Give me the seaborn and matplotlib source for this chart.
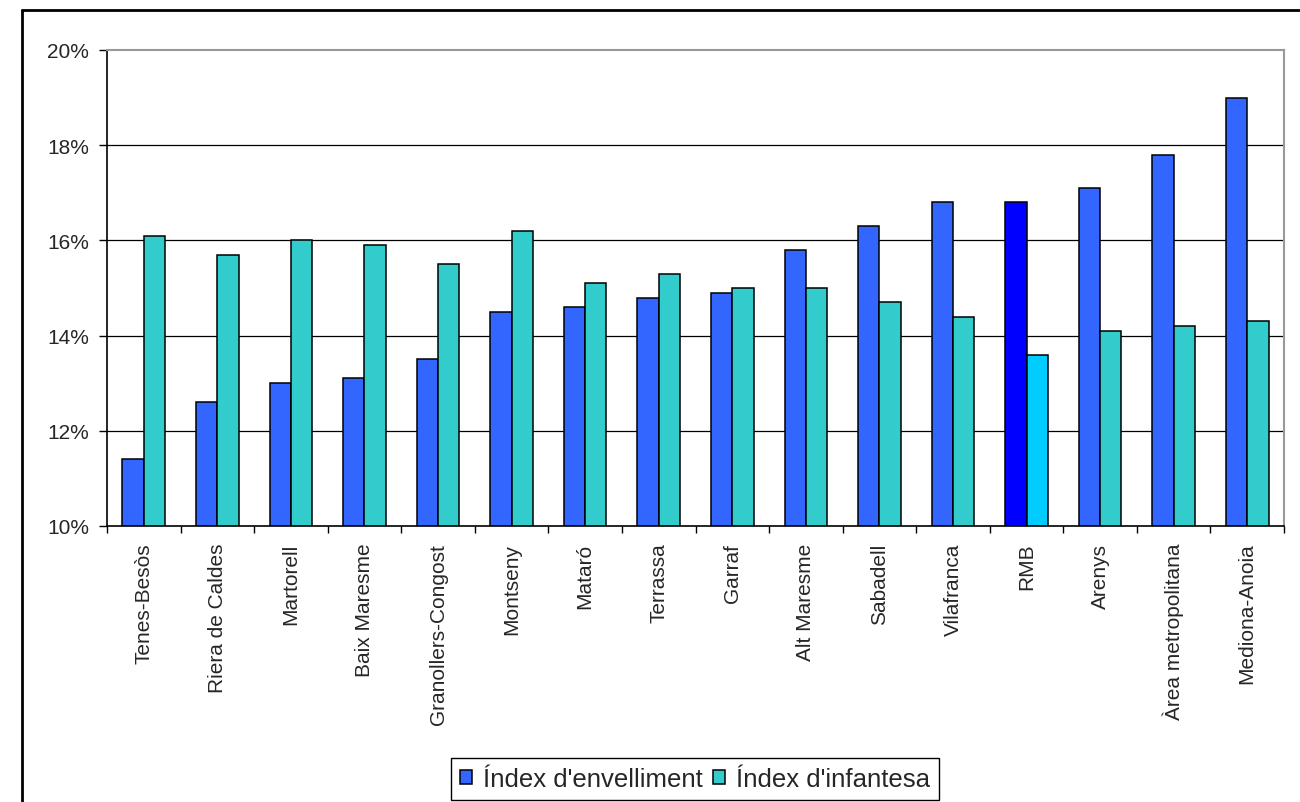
import pandas as pd
import matplotlib.pyplot as plt
import seaborn as sns
from matplotlib.lines import Line2D
from matplotlib.ticker import FuncFormatter, FixedLocator

# dades
comarques = ["Tenes-Besòs", "Riera de Caldes", "Martorell", "Baix Maresme",
             "Granollers-Congost", "Montseny", "Mataró", "Terrassa", "Garraf",
             "Alt Maresme", "Sabadell", "Vilafranca", "RMB", "Arenys",
             "Àrea metropolitana", "Mediona-Anoia"]
envelliment = [11.4, 12.6, 13.0, 13.1, 13.5, 14.5, 14.6, 14.8, 14.9,
               15.8, 16.3, 16.8, 16.8, 17.1, 17.8, 19.0]
infantesa = [16.1, 15.7, 16.0, 15.9, 15.5, 16.2, 15.1, 15.3, 15.0,
             15.0, 14.7, 14.4, 13.6, 14.1, 14.2, 14.3]
series = ["Índex d'envelliment", "Índex d'infantesa"]

df = pd.DataFrame({"zona": comarques * 2,
                   "serie": [series[0]] * len(comarques) + [series[1]] * len(comarques),
                   "valor": envelliment + infantesa})

sns.set_style("white")
plt.rcParams["font.family"] = ["Liberation Sans", "DejaVu Sans"]

fig = plt.figure(figsize=(13, 8.03), dpi=100)
ax = fig.add_axes([107 / 1300, 1 - 527 / 803, (1284 - 107) / 1300, (527 - 51) / 803])

sns.barplot(data=df, x="zona", y="valor", hue="serie", hue_order=series,
            palette=["#3366FF", "#33CCCC"], width=0.58, edgecolor="black",
            linewidth=1.1, saturation=1, ax=ax, legend=True)

# RMB amb colors destacats
i_rmb = comarques.index("RMB")
ax.containers[0][i_rmb].set_facecolor("#0000FF")
ax.containers[1][i_rmb].set_facecolor("#00CCFF")

ax.set_ylim(10, 20)
ax.set_xlim(-0.5, len(comarques) - 0.5)
ax.set_yticks([10, 12, 14, 16, 18, 20])
ax.yaxis.set_major_formatter(FuncFormatter(lambda v, p: f"{v:.0f}%"))
for y in [12, 14, 16, 18]:
    ax.axhline(y, color="black", lw=0.9, zorder=0)

ax.set_xlabel("")
ax.set_ylabel("")
ax.tick_params(axis="y", direction="out", length=6, width=1, color="black",
               labelsize=15, pad=7, left=True)
# marques entre categories
ax.xaxis.set_major_locator(FixedLocator([i for i in range(len(comarques))]))
ax.set_xticklabels(comarques, rotation=90, fontsize=15)
ax.tick_params(axis="x", length=0, pad=12)
ax.xaxis.set_minor_locator(FixedLocator([i - 0.5 for i in range(len(comarques) + 1)]))
ax.tick_params(axis="x", which="minor", direction="out", length=5, width=1,
               color="black", bottom=True)

for s in ["left", "bottom"]:
    ax.spines[s].set_color("black")
    ax.spines[s].set_linewidth(1.2)
for s in ["top", "right"]:
    ax.spines[s].set_color("#999999")
    ax.spines[s].set_linewidth(1.5)

handles, labels = ax.get_legend_handles_labels()
ax.legend(handles, labels, loc="center", bbox_to_anchor=(0.4996, -0.531), ncol=2,
          frameon=True, fancybox=False, edgecolor="black", fontsize=18.5,
          handlelength=0.47, handleheight=0.47, handletextpad=0.43,
          columnspacing=0.4, borderpad=0.35, borderaxespad=0, framealpha=1)
ax.get_legend().get_frame().set_linewidth(1)

# marc exterior
fig.add_artist(Line2D([22 / 1300, 22 / 1300], [0, 1 - 11 / 803], color="black", lw=2))
fig.add_artist(Line2D([22 / 1300, 1], [1 - 11 / 803, 1 - 11 / 803], color="black", lw=2))

plt.savefig("out.png", dpi=100)
